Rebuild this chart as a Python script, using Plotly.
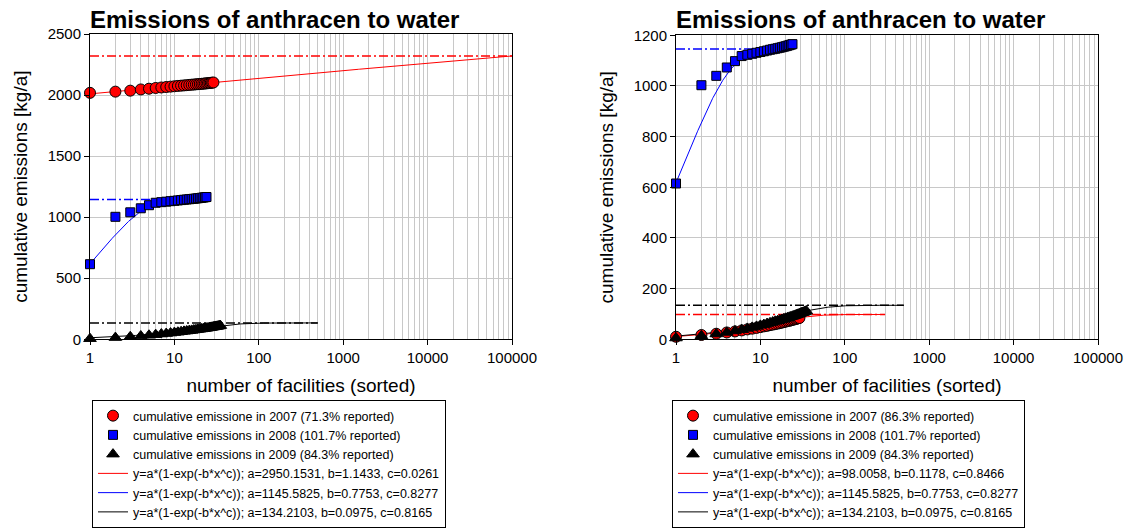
import numpy as np
import plotly.graph_objects as go

FONT = "Liberation Sans, Arial, sans-serif"
GRID = "#c8c8c8"

# ---- measured cumulative emissions, facilities sorted by size ----
rank_2007_a = list(range(1, 30))
emis_2007_a = [2018, 2028, 2036, 2046, 2052, 2058, 2062, 2066, 2069, 2072,
               2075, 2077, 2079, 2081, 2083, 2085, 2086, 2088, 2089, 2091,
               2092, 2093, 2095, 2096, 2097, 2099, 2100, 2101, 2103]

rank_2007_b = list(range(1, 30))
emis_2007_b = [10, 17, 22, 27, 31, 35, 39, 42, 45, 48,
               51, 53, 56, 58, 60, 62, 64, 66, 68, 70,
               72, 73, 75, 77, 78, 80, 81, 83, 84]

rank_2008 = list(range(1, 25))
emis_2008 = [615, 1003, 1040, 1073, 1098, 1118, 1123, 1127, 1131, 1134,
             1137, 1140, 1143, 1145, 1147, 1149, 1151, 1153, 1155, 1157,
             1159, 1161, 1163, 1165]

rank_2009 = list(range(1, 36))
emis_2009 = [5, 14, 21, 27, 33, 38, 43, 47, 51, 55,
             58, 62, 65, 68, 71, 73, 76, 78, 81, 83,
             85, 87, 89, 91, 93, 95, 97, 99, 101, 103,
             105, 106, 108, 110, 112]

# ---- fitted curves y = a*(1-exp(-b*x^c)) and the x range they are drawn over ----
fit_2007_a = dict(a=2950.1531, b=1.1433, c=0.0261, xmax=100000)
fit_2007_b = dict(a=98.0058, b=0.1178, c=0.8466, xmax=300)
fit_2008 = dict(a=1145.5825, b=0.7753, c=0.8277, xmax=25)
fit_2009 = dict(a=134.2103, b=0.0975, c=0.8165, xmax=500)

labels_left = ["cumulative emissione in 2007 (71.3% reported)",
               "cumulative emissions in 2008 (101.7% reported)",
               "cumulative emissions in 2009 (84.3% reported)"]
labels_right = ["cumulative emissione in 2007 (86.3% reported)",
                "cumulative emissions in 2008 (101.7% reported)",
                "cumulative emissions in 2009 (84.3% reported)"]

TITLE = "Emissions of anthracen to water"
Y_TITLE = "cumulative emissions [kg/a]"
X_TITLE = "number of facilities (sorted)"


def fit_curve(p):
    x = np.logspace(0, np.log10(p["xmax"]), 400)
    return x, p["a"] * (1 - np.exp(-p["b"] * x ** p["c"]))


def fit_label(p):
    return "y=a*(1-exp(-b*x^c)); a=%.4f, b=%.4f, c=%.4f" % (p["a"], p["b"], p["c"])


fig = go.Figure()


def add_panel(xa, ya, leg, series):
    # series: list of (rank, values, fit, colour, symbol, size, label)
    # fit lines and saturation levels first so markers sit on top
    for i, (rank, vals, p, col, sym, size, lab) in enumerate(series):
        fx, fy = fit_curve(p)
        fig.add_trace(go.Scatter(
            x=[1, p["xmax"]], y=[fy[-1], fy[-1]], mode="lines",
            line=dict(color=col, width=1.5, dash="9px,3px,2px,3px"),
            xaxis=xa, yaxis=ya, showlegend=False, hoverinfo="skip"))
        fig.add_trace(go.Scatter(
            x=fx, y=fy, mode="lines", line=dict(color=col, width=1),
            name=fit_label(p), legend=leg, legendrank=10 + i,
            xaxis=xa, yaxis=ya))
    for i, (rank, vals, p, col, sym, size, lab) in enumerate(series):
        fig.add_trace(go.Scatter(
            x=rank, y=vals, mode="markers", cliponaxis=False,
            marker=dict(symbol=sym, size=size, color=col,
                        line=dict(color="black", width=1)),
            name=lab, legend=leg, legendrank=1 + i,
            xaxis=xa, yaxis=ya))


add_panel("x", "y", "legend", [
    (rank_2007_a, emis_2007_a, fit_2007_a, "#ff0000", "circle", 11, labels_left[0]),
    (rank_2008, emis_2008, fit_2008, "#0000ff", "square", 9, labels_left[1]),
    (rank_2009, emis_2009, fit_2009, "#000000", "triangle-up", 11, labels_left[2]),
])
add_panel("x2", "y2", "legend2", [
    (rank_2007_b, emis_2007_b, fit_2007_b, "#ff0000", "circle", 11, labels_right[0]),
    (rank_2008, emis_2008, fit_2008, "#0000ff", "square", 9, labels_right[1]),
    (rank_2009, emis_2009, fit_2009, "#000000", "triangle-up", 11, labels_right[2]),
])

W, H = 1132, 530


def xaxis(dom):
    return dict(
        domain=dom, type="log", range=[0, 5], dtick=1, exponentformat="none",
        automargin=False,
        showline=True, linecolor="black", linewidth=1, mirror=True,
        ticks="outside", ticklen=5, tickcolor="black",
        showgrid=True, gridcolor=GRID, gridwidth=1,
        minor=dict(dtick="D1", showgrid=True, gridcolor=GRID, gridwidth=1, ticks=""),
        tickfont=dict(size=15, color="black", family=FONT),
        title=dict(text=X_TITLE, font=dict(size=19, color="black", family=FONT), standoff=13),
        zeroline=False)


def yaxis(dom, rng, dt, anchor):
    return dict(
        domain=dom, range=rng, dtick=dt, anchor=anchor, automargin=False,
        showline=True, linecolor="black", linewidth=1, mirror=True,
        ticks="outside", ticklen=5, tickcolor="black",
        showgrid=True, gridcolor=GRID, gridwidth=1, zeroline=False,
        tickfont=dict(size=15, color="black", family=FONT),
        title=dict(text=Y_TITLE, font=dict(size=19, color="black", family=FONT), standoff=14))


ydom = [1 - 339.3 / H, 1 - 34 / H]
ydom2 = [1 - 339.3 / H, 1 - 35.3 / H]

legend_style = dict(
    xanchor="left", yanchor="bottom", bordercolor="black", borderwidth=1,
    bgcolor="white", font=dict(size=12.5, color="black", family=FONT),
    tracegroupgap=0, itemwidth=30)

fig.update_layout(
    width=W, height=H, margin=dict(l=0, r=0, t=0, b=0),
    paper_bgcolor="white", plot_bgcolor="white",
    separators=".",
    font=dict(family=FONT, color="black"),
    xaxis=xaxis([90 / W, 512 / W]) | dict(anchor="y"),
    yaxis=yaxis(ydom, [0, 2500], 500, "x"),
    xaxis2=xaxis([676 / W, 1098 / W]) | dict(anchor="y2"),
    yaxis2=yaxis(ydom2, [0, 1200], 200, "x2"),
    legend=dict(x=92 / W, y=2 / H, **legend_style),
    legend2=dict(x=672 / W, y=2 / H, **legend_style),
    annotations=[
        dict(text="<b>%s</b>" % TITLE, x=88 / W, y=1 - 20 / H, xref="paper", yref="paper",
             xanchor="left", yanchor="middle", showarrow=False,
             font=dict(size=24, color="black", family=FONT)),
        dict(text="<b>%s</b>" % TITLE, x=674 / W, y=1 - 20 / H, xref="paper", yref="paper",
             xanchor="left", yanchor="middle", showarrow=False,
             font=dict(size=24, color="black", family=FONT)),
    ],
)

fig.write_html("out.html")
